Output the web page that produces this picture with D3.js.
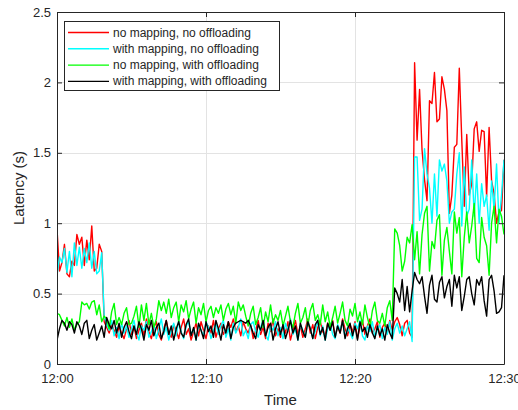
<!DOCTYPE html>
<html>
<head>
<meta charset="utf-8">
<script src="https://cdn.jsdelivr.net/npm/d3@7"></script>
<style>
body{margin:0;background:#fff;}
text{font-family:"Liberation Sans",Arial,Helvetica,sans-serif;fill:#262626;}
</style>
</head>
<body>
<div class="latency-plot"></div>
<script>
// one sample every 10 s, 12:00 -> 12:30
const sampleSeconds = 10;

const seriesNames = ['no mapping, no offloading','with mapping, no offloading','no mapping, with offloading','with mapping, with offloading'];
const seriesColors = ['#ff0000','#00ffff','#00ff00','#000000'];

const noMapNoOff = [
	0.96,0.66,0.72,0.85,0.64,0.62,0.73,0.70,0.92,0.85,0.90,0.70,0.88,0.74,0.98,0.66,0.68,0.85,0.80,
	0.30,0.26,0.22,0.28,0.24,0.19,0.27,0.22,0.18,0.25,
	0.31,0.21,0.27,0.18,0.24,0.29,0.20,0.32,0.23,0.18,
	0.26,0.30,0.21,0.17,0.25,0.31,0.22,0.19,0.28,0.24,
	0.18,0.26,0.32,0.21,0.25,0.17,0.23,0.29,0.20,0.30,
	0.24,0.18,0.27,0.22,0.31,0.19,0.25,0.29,0.21,0.24,
	0.30,0.26,0.32,0.23,0.27,0.20,0.30,0.25,0.22,0.28,
	0.18,0.24,0.31,0.21,0.26,0.18,0.29,0.23,0.32,0.20,
	0.25,0.19,0.28,0.22,0.30,0.17,0.24,0.31,0.21,0.27,
	0.19,0.25,0.32,0.22,0.28,0.18,0.26,0.30,0.23,0.20,
	0.29,0.24,0.31,0.19,0.27,0.22,0.32,0.25,0.20,0.28,
	0.23,0.30,0.18,0.26,0.31,0.21,0.27,0.32,0.22,0.25,
	0.30,0.19,0.26,0.29,0.22,0.31,0.24,0.30,0.33,0.28,
	0.20,0.29,0.31,0.22,0.19,
	2.14,1.59,1.95,1.52,1.31,1.16,1.87,1.85,2.07,1.72,1.74,2.04,1.95,1.80,1.07,1.20,1.54,1.56,2.10,
	1.59,1.12,1.63,1.20,1.28,1.67,1.72,1.51,1.66,1.65,1.19,1.68,1.30,1.21,1.00,1.08,1.09,1.45
];

const mapNoOff = [
	0.63,0.76,0.72,0.82,0.65,0.80,0.62,0.86,0.70,0.83,0.68,0.82,0.72,0.86,0.68,0.80,0.64,0.66,0.79,
	0.34,0.28,0.24,0.31,0.20,0.26,0.18,0.29,0.22,0.27,
	0.19,0.25,0.31,0.22,0.17,0.27,0.24,0.30,0.19,0.23,
	0.28,0.18,0.25,0.32,0.21,0.26,0.17,0.24,0.29,0.20,
	0.31,0.23,0.18,0.27,0.30,0.21,0.25,0.17,0.28,0.24,
	0.20,0.30,0.26,0.18,0.24,0.29,0.21,0.27,0.31,0.19,
	0.25,0.17,0.29,0.22,0.26,0.32,0.20,0.24,0.18,0.28,
	0.30,0.23,0.19,0.26,0.31,0.21,0.17,0.27,0.24,0.30,
	0.20,0.26,0.18,0.29,0.23,0.32,0.21,0.25,0.17,0.28,
	0.24,0.19,0.30,0.26,0.18,0.23,0.31,0.20,0.27,0.17,
	0.25,0.29,0.21,0.18,0.28,0.24,0.30,0.19,0.26,0.22,
	0.18,0.29,0.25,0.31,0.20,0.17,0.27,0.23,0.30,0.19,
	0.24,0.28,0.18,0.26,0.21,0.30,0.17,0.25,0.29,0.22,
	0.27,0.20,0.25,0.30,0.16,
	1.47,1.47,1.02,1.10,1.53,1.35,1.25,1.00,1.35,1.05,1.45,1.37,1.42,1.30,1.00,1.08,1.10,1.35,1.50,
	0.98,1.40,1.05,1.10,1.45,1.05,1.35,1.00,1.28,1.12,1.20,0.95,1.30,1.10,1.42,1.00,1.20,1.45
];

const noMapOff = [
	0.36,0.35,0.31,0.27,0.33,0.26,0.32,0.24,0.28,0.30,
	0.44,0.42,0.43,0.39,0.44,0.45,0.35,0.42,0.30,0.34,
	0.32,0.25,0.37,0.43,0.28,0.33,0.28,0.36,0.40,0.28,
	0.29,0.34,0.41,0.26,0.42,0.31,0.43,0.28,0.36,0.26,
	0.32,0.45,0.38,0.44,0.36,0.46,0.33,0.40,0.44,0.30,
	0.42,0.37,0.45,0.32,0.39,0.44,0.29,0.40,0.35,0.43,
	0.30,0.38,0.41,0.33,0.40,0.36,0.42,0.31,0.39,0.43,
	0.35,0.41,0.29,0.44,0.38,0.42,0.34,0.27,0.36,0.41,
	0.28,0.33,0.40,0.26,0.37,0.30,0.42,0.29,0.35,0.31,
	0.38,0.27,0.34,0.41,0.30,0.26,0.36,0.43,0.29,0.33,
	0.40,0.27,0.38,0.43,0.31,0.35,0.28,0.42,0.30,0.37,
	0.26,0.33,0.41,0.29,0.36,0.44,0.31,0.27,0.39,0.34,
	0.43,0.30,0.37,0.28,0.42,0.33,0.26,0.38,0.44,0.31,
	0.29,0.36,0.27,0.40,0.45,0.31,
	0.96,0.93,0.84,0.66,0.73,0.90,0.86,0.99,0.74,0.94,0.64,0.92,1.07,1.12,0.66,
	0.87,0.82,1.02,1.06,0.63,0.88,0.97,0.80,0.64,1.08,0.93,1.04,0.62,0.90,1.08,
	0.86,0.98,1.14,0.75,0.72,1.04,0.90,0.84,0.63,1.00,1.12,0.86,1.10,1.05,0.92
];

const mapOff = [
	0.17,0.25,0.31,0.29,0.24,0.30,0.28,0.22,0.30,0.27,
	0.21,0.29,0.31,0.18,0.24,0.28,0.17,0.22,0.27,0.19,
	0.33,0.28,0.25,0.31,0.22,0.29,0.19,0.26,0.30,0.23,
	0.18,0.27,0.21,0.30,0.25,0.17,0.28,0.24,0.31,0.20,
	0.26,0.29,0.18,0.23,0.31,0.21,0.27,0.17,0.25,0.30,
	0.22,0.19,0.28,0.32,0.20,0.26,0.17,0.29,0.24,0.18,
	0.30,0.23,0.27,0.19,0.31,0.25,0.17,0.28,0.22,0.30,
	0.18,0.26,0.29,0.30,0.31,0.30,0.29,0.31,0.27,0.22,
	0.18,0.28,0.24,0.31,0.20,0.26,0.29,0.17,0.25,0.30,
	0.21,0.28,0.18,0.24,0.31,0.22,0.27,0.17,0.29,0.23,
	0.19,0.30,0.25,0.18,0.28,0.31,0.21,0.26,0.17,0.29,
	0.24,0.30,0.19,0.27,0.22,0.31,0.18,0.25,0.29,0.20,
	0.27,0.17,0.30,0.23,0.26,0.19,0.28,0.22,0.18,0.27,
	0.20,0.25,0.17,0.28,0.22,0.18,
	0.54,0.50,0.44,0.60,0.38,0.55,0.37,0.52,0.65,0.60,0.57,0.62,0.48,0.36,0.56,
	0.63,0.46,0.44,0.58,0.62,0.47,0.55,0.60,0.41,0.63,0.54,0.62,0.38,0.48,0.60,
	0.62,0.50,0.42,0.60,0.56,0.62,0.45,0.34,0.60,0.63,0.52,0.36,0.37,0.40,0.63
];

const yTicks = [0,0.5,1,1.5,2,2.5];
const xTickMinutes = [0,10,20,30];

const allSeries = [noMapNoOff, mapNoOff, noMapOff, mapOff];

function renderPlot(){
	const width=518;
	const height=410;
	const margin={left:57,right:14,top:12,bottom:46};
	const t0=new Date(2020,0,1,12,0,0);
	const t1=new Date(2020,0,1,12,30,0);

	const svg=d3.select('.latency-plot')
		.append('svg')
		.attr('width',width)
		.attr('height',height)

	const x=d3.scaleTime()
		.domain([t0,t1])
		.range([margin.left,width-margin.right])
	const y=d3.scaleLinear()
		.domain([0,2.5])
		.range([height-margin.bottom,margin.top])

	const xt=xTickMinutes.map(m=>new Date(+t0+m*60000));
	const x0=x.range()[0], x1=x.range()[1], y0=y.range()[0], y1=y.range()[1];

	// grid
	svg.append('g')
		.selectAll('line')
		.data(yTicks)
		.enter()
		.append('line')
		.attr('x1',x0).attr('x2',x1)
		.attr('y1',d=>Math.round(y(d))+0.5).attr('y2',d=>Math.round(y(d))+0.5)
		.attr('stroke','#e3e3e3')
	svg.append('g')
		.selectAll('line')
		.data(xt)
		.enter()
		.append('line')
		.attr('y1',y0).attr('y2',y1)
		.attr('x1',d=>Math.round(x(d))+0.5).attr('x2',d=>Math.round(x(d))+0.5)
		.attr('stroke','#e3e3e3')

	svg.append('clipPath').attr('id','clip')
		.append('rect')
		.attr('x',x0).attr('y',y1)
		.attr('width',x1-x0).attr('height',y0-y1)

	const line=d3.line()
		.x((d,i)=>x(new Date(+t0+i*sampleSeconds*1000)))
		.y(d=>y(d))

	svg.append('g')
		.attr('clip-path','url(#clip)')
		.selectAll('path')
		.data(allSeries)
		.enter()
		.append('path')
		.attr('d',d=>line(d))
		.attr('fill','none')
		.attr('stroke',(d,i)=>seriesColors[i])
		.attr('stroke-width',1.4)
		.attr('stroke-linejoin','round')

	// axes (ticks pointing inward, mirrored on top / right)
	const fmt=d3.timeFormat('%H:%M');
	const xAxis=svg.append('g')
		.attr('transform','translate(0,'+y0+')')
		.call(d3.axisBottom(x).tickValues(xt).tickFormat(fmt).tickSizeInner(-5).tickSizeOuter(0).tickPadding(10))
	const yAxis=svg.append('g')
		.attr('transform','translate('+x0+',0)')
		.call(d3.axisLeft(y).tickValues(yTicks).tickFormat(d3.format('')).tickSizeInner(-5).tickSizeOuter(0).tickPadding(6))
	svg.append('g')
		.attr('transform','translate(0,'+y1+')')
		.call(d3.axisTop(x).tickValues(xt).tickFormat('').tickSizeInner(-5).tickSizeOuter(0))
	svg.append('g')
		.attr('transform','translate('+x1+',0)')
		.call(d3.axisRight(y).tickValues(yTicks).tickFormat('').tickSizeInner(-5).tickSizeOuter(0))
	svg.selectAll('.domain').attr('stroke','#262626')
	svg.selectAll('.tick line').attr('stroke','#262626')
	svg.selectAll('.tick text')
		.attr('font-size',13)
		.attr('font-family','"Liberation Sans",Arial,sans-serif')
		.attr('fill','#262626')

	// axis labels
	svg.append('text')
		.attr('x',(x0+x1)/2)
		.attr('y',405)
		.attr('text-anchor','middle')
		.attr('font-size',15)
		.text('Time')
	svg.append('text')
		.attr('transform','translate(24,'+((y0+y1)/2)+') rotate(-90)')
		.attr('text-anchor','middle')
		.attr('font-size',15)
		.text('Latency (s)')

	// legend
	const lg=svg.append('g')
	lg.append('rect')
		.attr('x',64.5).attr('y',21.5)
		.attr('width',215).attr('height',69)
		.attr('fill','#fff')
		.attr('stroke','#262626')
	const rows=lg.selectAll('g.row')
		.data(seriesNames)
		.enter()
		.append('g')
		.attr('class','row')
		.attr('transform',(d,i)=>'translate(0,'+(32.5+i*16.3)+')')
	rows.append('line')
		.attr('x1',68).attr('x2',109)
		.attr('stroke',(d,i)=>seriesColors[i])
		.attr('stroke-width',1.4)
	rows.append('text')
		.attr('x',113)
		.attr('y',4)
		.attr('font-size',12)
		.text(d=>d)
}

renderPlot();
</script>
</body>
</html>
